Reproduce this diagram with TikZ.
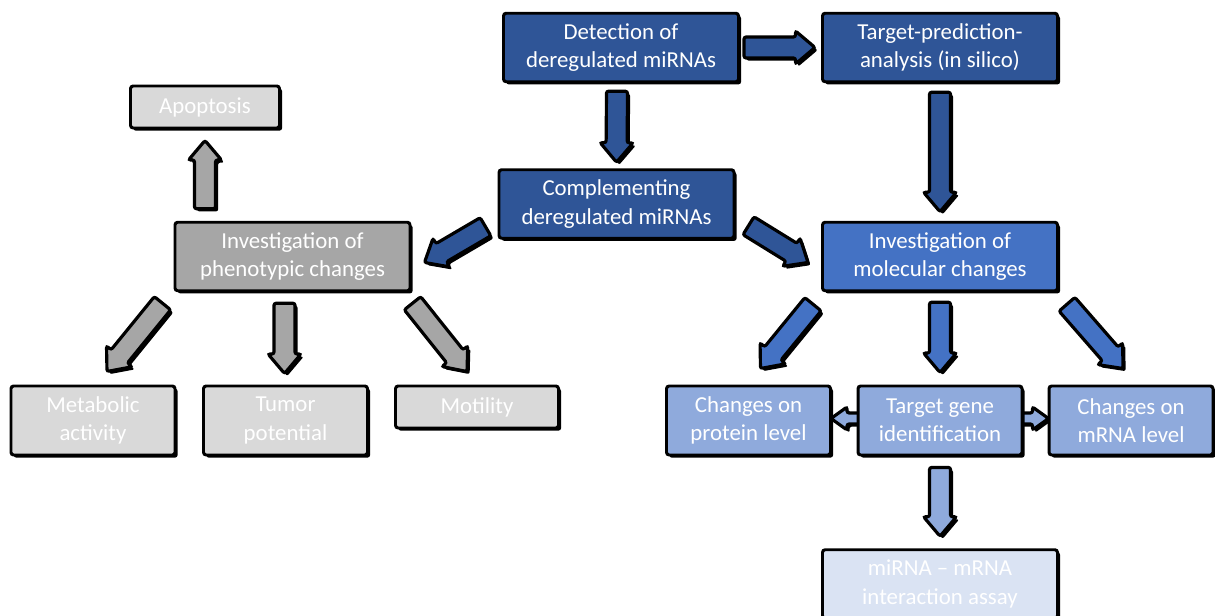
\documentclass[tikz,border=0pt]{standalone}
\usepackage{fontspec}
\setmainfont{Carlito}
\usetikzlibrary{calc,backgrounds,shadows}

\definecolor{darkblue}{HTML}{2F5597}
\definecolor{midblue}{HTML}{4472C4}
\definecolor{lightblue}{HTML}{8FAADC}
\definecolor{paleblue}{HTML}{DAE3F3}
\definecolor{darkgrey}{HTML}{A6A6A6}
\definecolor{lightgrey}{HTML}{D9D9D9}

\tikzset{
  hardshadow/.style={drop shadow={shadow xshift=1.5pt, shadow yshift=-1.5pt, fill=black, opacity=1}},
  box/.style={draw=black, line width=1.7pt, rounded corners=1.5pt, text=white, hardshadow,
    align=center, inner sep=0pt, font=\fontsize{13pt}{16pt}\selectfont},
  blockarrow/.style={draw=black, line width=1.8pt, rounded corners=1.2pt, hardshadow,
    to path={let \p1=(\tikztostart), \p2=(\tikztotarget),
      \n1={atan2(\y2-\y1,\x2-\x1)} in
      ($(\p1)+(\n1+90:\shaftw)$) -- ($(\p2)+(\n1+180:\headl)+(\n1+90:\shaftw)$)
      -- ($(\p2)+(\n1+180:\headl)+(\n1+90:\headw)$) -- (\p2)
      -- ($(\p2)+(\n1+180:\headl)+(\n1-90:\headw)$)
      -- ($(\p2)+(\n1+180:\headl)+(\n1-90:\shaftw)$)
      -- ($(\p1)+(\n1-90:\shaftw)$) -- cycle}},
  bigarrow/.style={blockarrow, fill=#1,
    /utils/exec={\def\shaftw{2.1mm}\def\headw{3.3mm}\def\headl{3.9mm}}},
  smallarrow/.style={blockarrow, fill=#1,
    /utils/exec={\def\shaftw{1.1mm}\def\headw{2.3mm}\def\headl{3.2mm}}}
}

\begin{document}
\begin{tikzpicture}[x=0.2mm, y=-0.2mm]

        \useasboundingbox (0,0) rectangle (1215,616);

        \begin{scope}[every node/.style={box, minimum width=47mm, minimum height=13.7mm}]
          \node[fill=darkblue]  (det)  at (621,47.5)  {Detection of\\deregulated miRNAs};
          \node[fill=darkblue]  (pred) at (940,47.5)  {Target-prediction-\\analysis (in silico)};
          \node[fill=darkblue]  (comp) at (616.5,204) {Complementing\\deregulated miRNAs};
          \node[fill=midblue]   (mol)  at (940,256.5) {Investigation of\\molecular changes};
          \node[fill=darkgrey]  (phen) at (292.5,256.5) {Investigation of\\phenotypic changes};
          \node[fill=paleblue]  (assay) at (940,584) {miRNA -- mRNA\\interaction assay};
        \end{scope}

        \begin{scope}[every node/.style={box, minimum width=32.8mm, minimum height=13.8mm}]
          \node[fill=lightgrey] (met)  at (93,420.5)    {Metabolic\\activity};
          \node[fill=lightgrey] (tum)  at (285.5,420.5) {Tumor\\potential};
          \node[fill=lightblue] (prot) at (748.5,420.5) {Changes on\\protein level};
          \node[fill=lightblue] (tg)   at (940,420.5)   {Target gene\\identification};
          \node[fill=lightblue] (mrna) at (1131,420.5)  {Changes on\\mRNA level};
        \end{scope}

        \begin{scope}[every node/.style={box, minimum height=8.4mm}]
          \node[fill=lightgrey, minimum width=29.8mm] (apop) at (205,107) {Apoptosis};
          \node[fill=lightgrey, minimum width=32.6mm] (mot)  at (477,407) {Motility};
        \end{scope}

        \begin{pgfonlayer}{background}
          \draw[bigarrow=darkblue] ($(det.south)+(-4,8)$) to ($(comp.north)+(0,-6)$);
          \draw[bigarrow=darkblue] ($(det.east)+(4,0)$) to ($(pred.west)+(-6,0)$);
          \draw[bigarrow=darkblue] ($(pred.south)+(0,9)$) to ($(mol.north)+(0,-9)$);
          \draw[bigarrow=darkblue] ($(comp.south east)+(13,-14)$) to ($(mol.west)+(-13,6)$);
          \draw[bigarrow=darkblue] ($(comp.south west)+(-12,-13)$) to ($(phen.east)+(13,6)$);

          \draw[bigarrow=darkgrey] ($(apop.south |- phen.north)+(0,-12)$) to ($(apop.south)+(0,11)$);
          \draw[bigarrow=darkgrey] ($(phen.south west)+(-11,11)$) to ($(met.north)+(14,-13)$);
          \draw[bigarrow=darkgrey] ($(tum.north |- phen.south)+(-1,11)$) to ($(tum.north)+(-1,-11)$);
          \draw[bigarrow=darkgrey] ($(phen.south east)+(1,11)$) to ($(mot.north)+(-10,-13)$);

          \draw[bigarrow=midblue] ($(mol.south west)+(-8,12)$) to ($(prot.north)+(12,-16)$);
          \draw[bigarrow=midblue] ($(mol.south)+(0,10)$) to ($(tg.north)+(0,-12)$);
          \draw[bigarrow=midblue] ($(mol.south east)+(8,12)$) to ($(mrna.north)+(-8,-16)$);

          \draw[smallarrow=lightblue] ($(tg.west)+(10,-2)$) to ($(prot.east)+(-1,-2)$);
          \draw[smallarrow=lightblue] ($(tg.east)+(-10,-2)$) to ($(mrna.west)+(1,-2)$);
          \draw[bigarrow=lightblue] ($(tg.south)+(0,11)$) to ($(assay.north)+(0,-12)$);
        \end{pgfonlayer}

      \end{tikzpicture}
\end{document}
